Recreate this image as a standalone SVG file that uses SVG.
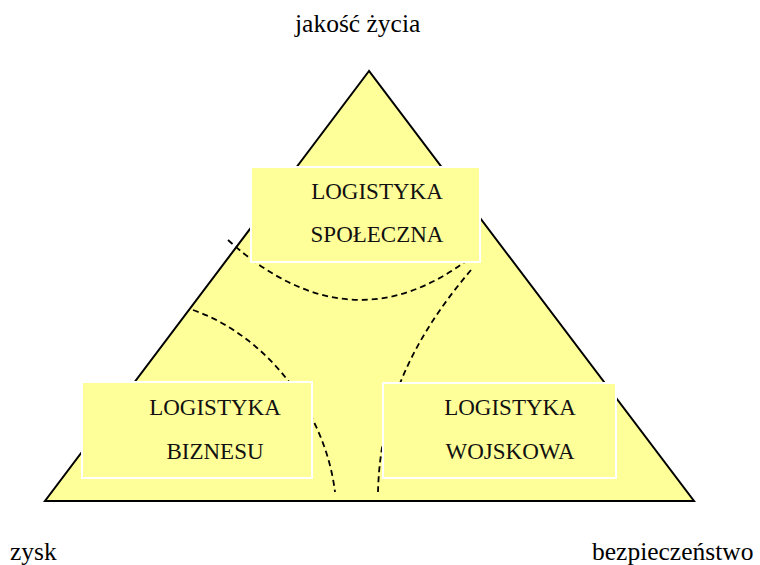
<svg xmlns="http://www.w3.org/2000/svg" width="760" height="565" viewBox="0 0 760 565">
<style>
text{font-family:'Liberation Serif',Tinos,'Noto Serif','DejaVu Serif',serif}
.lbl{font-size:25.5px;fill:#000}
.bt{font-size:23px;fill:#111;text-anchor:middle}
.box{fill:#ffff99;stroke:#ffffff;stroke-width:2}
.dash{fill:none;stroke:#000;stroke-width:1.8;stroke-dasharray:6 4}
</style>
<rect width="760" height="565" fill="#ffffff"/>
<g id="triangle">
<polygon points="369,71 45,501 694,501" fill="#ffff99" stroke="#000" stroke-width="2" stroke-linejoin="miter"/>
</g>
<g id="connectors">
<path class="dash" d="M228 240 Q350 350 470 258"/>
<path class="dash" d="M193 310 C265 335 325 410 335 492"/>
<path class="dash" d="M471 270 C420 330 380 400 378 492"/>
</g>
<g id="node-spoleczna">
<rect class="box" x="251" y="167" width="229" height="95"/>
<text class="bt" x="377" y="199" font-family="Liberation Serif, serif">LOGISTYKA</text>
<text class="bt" x="377" y="242" font-family="Liberation Serif, serif">SPOŁECZNA</text>
</g>
<g id="node-biznesu">
<rect class="box" x="82" y="382" width="230" height="96"/>
<text class="bt" x="215" y="415">LOGISTYKA</text>
<text class="bt" x="215" y="459">BIZNESU</text>
</g>
<g id="node-wojskowa">
<rect class="box" x="383" y="383" width="233" height="95"/>
<text class="bt" x="510" y="415">LOGISTYKA</text>
<text class="bt" x="510" y="459">WOJSKOWA</text>
</g>
<g id="labels">
<text class="lbl" x="295" y="32">jakość życia</text>
<text class="lbl" x="10" y="560">zysk</text>
<text class="lbl" x="592" y="560">bezpieczeństwo</text>
</g>
</svg>
